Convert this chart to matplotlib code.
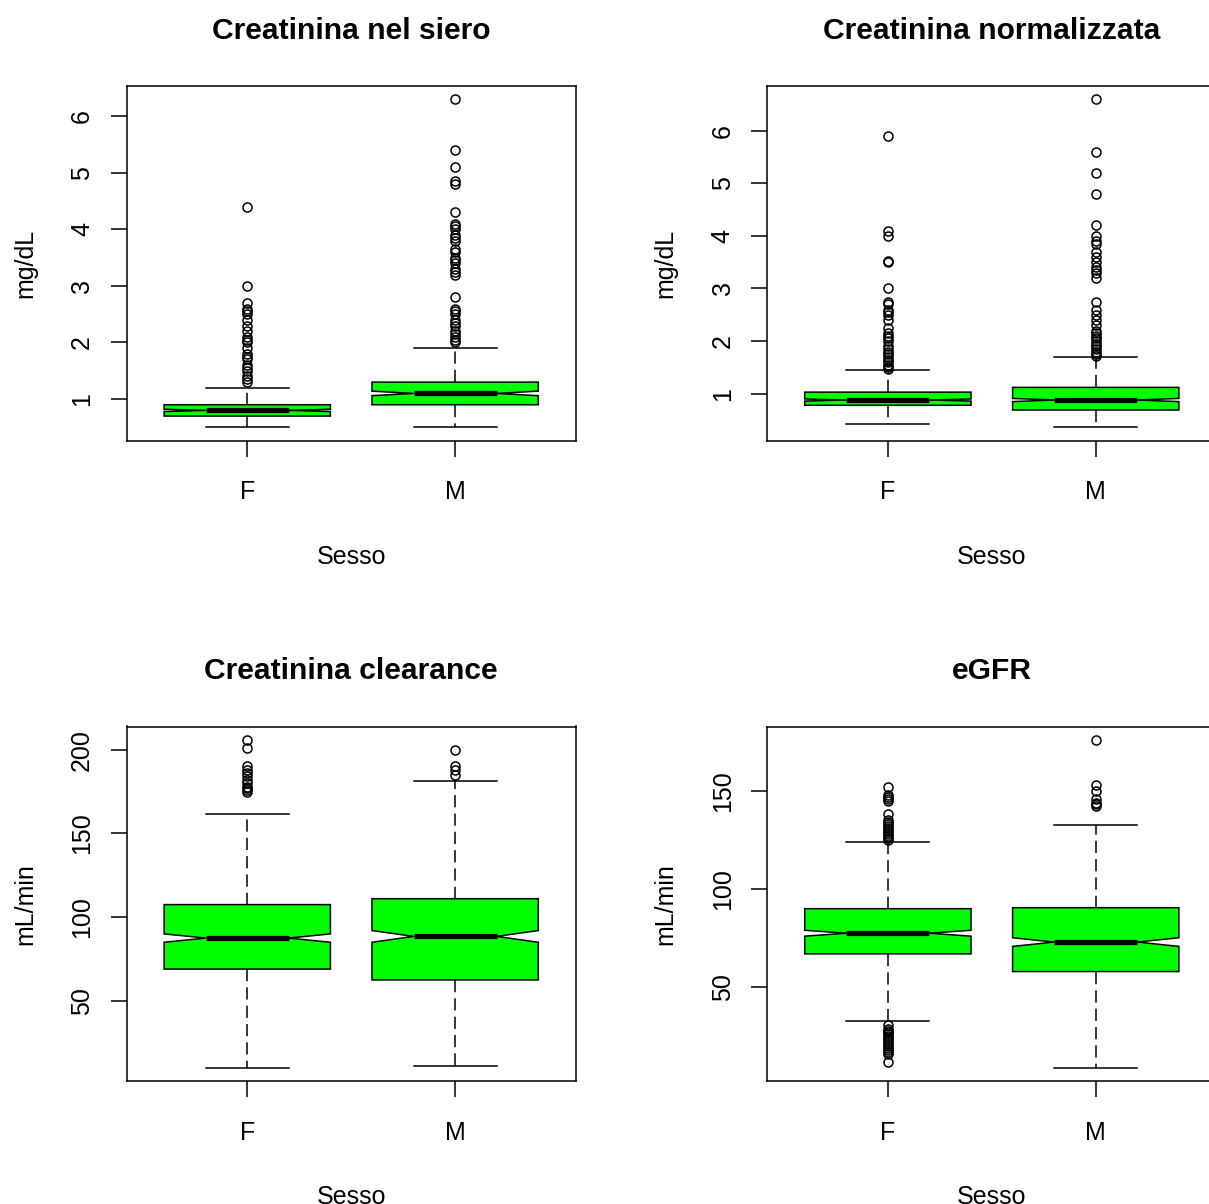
import matplotlib
matplotlib.use("Agg")
import matplotlib.pyplot as plt

plt.rcParams['font.family'] = ['Liberation Sans', 'DejaVu Sans']

groups = ['F', 'M']

# valori: [baffo basso, Q1, mediana, Q3, baffo alto]
siero_F = [0.5, 0.7, 0.8, 0.9, 1.2]
siero_M = [0.5, 0.9, 1.1, 1.3, 1.9]
siero_notch_F = [0.78, 0.82]
siero_notch_M = [1.06, 1.14]
siero_out_F = [1.3, 1.35, 1.4, 1.5, 1.55, 1.6, 1.7, 1.75, 1.8, 1.9, 2.0, 2.05,
               2.1, 2.2, 2.3, 2.4, 2.5, 2.55, 2.6, 2.7, 3.0, 4.4]
siero_out_M = [2.0, 2.05, 2.1, 2.15, 2.2, 2.3, 2.35, 2.4, 2.5, 2.55, 2.6, 2.8,
               3.2, 3.25, 3.3, 3.4, 3.45, 3.5, 3.6, 3.65, 3.8, 3.85, 3.9, 4.0,
               4.05, 4.1, 4.3, 4.8, 4.85, 5.1, 5.4, 6.3]

norm_F = [0.43, 0.78, 0.88, 1.03, 1.45]
norm_M = [0.36, 0.69, 0.88, 1.12, 1.69]
norm_notch_F = [0.86, 0.90]
norm_notch_M = [0.85, 0.91]
norm_out_F = [1.47, 1.5, 1.55, 1.6, 1.65, 1.7, 1.75, 1.8, 1.85, 1.9, 2.0, 2.05,
              2.1, 2.15, 2.25, 2.4, 2.5, 2.55, 2.6, 2.7, 2.75, 3.0, 3.5, 3.52,
              4.0, 4.1, 5.9]
norm_out_M = [1.72, 1.76, 1.8, 1.85, 1.9, 1.95, 2.0, 2.05, 2.1, 2.15, 2.2, 2.3,
              2.4, 2.5, 2.6, 2.75, 3.2, 3.3, 3.35, 3.4, 3.5, 3.6, 3.7, 3.85,
              3.9, 4.0, 4.2, 4.8, 5.2, 5.6, 6.6]

clear_F = [10, 69, 87.5, 107.5, 161.5]
clear_M = [11, 62.5, 88.5, 111, 181.5]
clear_notch_F = [85, 90]
clear_notch_M = [85, 92]
clear_out_F = [175, 176, 177, 178, 180, 182, 184, 186, 188, 190, 201, 206]
clear_out_M = [185, 188, 190, 200]

egfr_F = [33, 67, 77.5, 90, 124]
egfr_M = [9, 58, 73, 90.5, 132.5]
egfr_notch_F = [76, 79]
egfr_notch_M = [70.8, 75.2]
egfr_out_F = [12, 16, 17, 18, 19, 20, 21, 22, 23, 24, 25, 26, 27, 28, 29, 31,
              125, 126, 127, 128, 129, 130, 131, 132, 133, 134, 135, 138,
              145, 146, 147, 148, 152]
egfr_out_M = [142, 143, 144, 146, 150, 153, 176]

W, H = 1209, 1204


def box_stats(five, notch, out, label):
    return {'whislo': five[0], 'q1': five[1], 'med': five[2], 'q3': five[3],
            'whishi': five[4], 'cilo': notch[0], 'cihi': notch[1],
            'fliers': out, 'label': label}


def pannello(fig, left, top, title, ylabel, yticks, fF, nF, oF, fM, nM, oM):
    # left/top del riquadro in pixel
    ax = fig.add_axes([left / W, 1 - (top + 354.5) / H, 449 / W, 354.5 / H])
    stats = [box_stats(fF, nF, oF, groups[0]), box_stats(fM, nM, oM, groups[1])]
    ax.bxp(stats, positions=[1, 2], widths=0.8, shownotches=True, patch_artist=True,
           boxprops=dict(facecolor='#00ff00', edgecolor='black', linewidth=1.1),
           medianprops=dict(color='black', linewidth=3.8, solid_capstyle='butt'),
           whiskerprops=dict(color='black', linewidth=1.1, linestyle=(0, (8, 4))),
           capprops=dict(color='black', linewidth=1.1),
           flierprops=dict(marker='o', markerfacecolor='none', markeredgecolor='black',
                           markersize=6.5, markeredgewidth=1.1, linestyle='none'))
    vals = fF + fM + oF + oM
    lo, hi = min(vals), max(vals)
    pad = (hi - lo) * 0.04
    ax.set_ylim(lo - pad, hi + pad)
    ax.set_xlim(0.42, 2.58)
    ax.set_yticks(yticks)
    ax.set_yticklabels([str(t) for t in yticks], rotation=90, va='center')
    ax.tick_params(axis='both', length=11.5, width=1.1, labelsize=18)
    ax.tick_params(axis='y', pad=12)
    ax.tick_params(axis='x', pad=17)
    for s in ax.spines.values():
        s.set_linewidth(1.1)
    ax.set_title(title, fontsize=21.6, fontweight='bold', pad=34)
    ax.set_xlabel('Sesso', fontsize=18)
    ax.xaxis.set_label_coords(0.5, -0.294)
    ax.set_ylabel(ylabel, fontsize=18, va='center')
    ax.yaxis.set_label_coords(-0.2265, 0.5)
    return ax


fig = plt.figure(figsize=(W / 100, H / 100), dpi=100)
pannello(fig, 126.7, 86, 'Creatinina nel siero', 'mg/dL', [1, 2, 3, 4, 5, 6],
         siero_F, siero_notch_F, siero_out_F, siero_M, siero_notch_M, siero_out_M)
pannello(fig, 767.3, 86, 'Creatinina normalizzata', 'mg/dL', [1, 2, 3, 4, 5, 6],
         norm_F, norm_notch_F, norm_out_F, norm_M, norm_notch_M, norm_out_M)
pannello(fig, 126.7, 726.5, 'Creatinina clearance', 'mL/min', [50, 100, 150, 200],
         clear_F, clear_notch_F, clear_out_F, clear_M, clear_notch_M, clear_out_M)
pannello(fig, 767.3, 726.5, 'eGFR', 'mL/min', [50, 100, 150],
         egfr_F, egfr_notch_F, egfr_out_F, egfr_M, egfr_notch_M, egfr_out_M)

fig.savefig('out.png', dpi=100)
